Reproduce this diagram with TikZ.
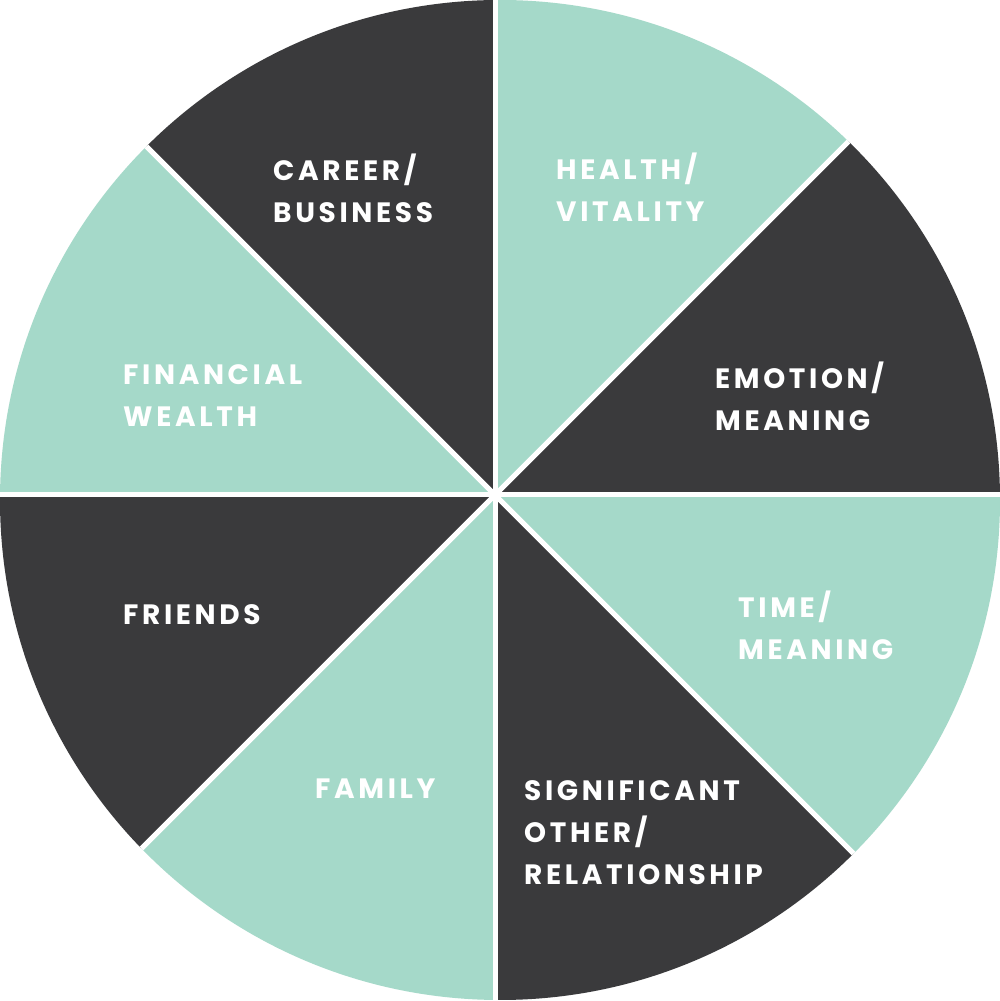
\documentclass[tikz,border=0pt]{standalone}
\usepackage{fontspec}
\newfontfamily\wheelfont{Poppins}[LetterSpace=13]
\definecolor{mint}{RGB}{165,217,201}
\definecolor{slate}{RGB}{58,58,60}
\begin{document}
\begin{tikzpicture}[x=1pt, y=1pt, line join=round, line cap=round,
  lbl/.style={text=white, font=\wheelfont\bfseries\fontsize{28}{42}\selectfont, align=left, anchor=west, inner sep=0pt}]
\useasboundingbox (0,0) rectangle (1000,1001);
\fill[white] (0,0) rectangle (1000,1001);
\path
(500,501) coordinate (M)
(495,506) coordinate (O);
% Wedges
\begin{scope}
\clip (M) circle (500);
\foreach \a/\c in {0/slate, 45/mint, 90/slate, 135/mint, 180/slate, 225/mint, 270/slate, 315/mint}
\fill[\c] (O) -- +(\a:800) -- +(\a+45:800) -- cycle;
\foreach \a in {0,45,...,315}
\draw[white, line width=5, line cap=butt] (O) -- +(\a:800);
\end{scope}
% Labels
\node[lbl] (career) at (273,813) {CAREER/\\BUSINESS};
\node[lbl] (health) at (556,814) {HEALTH/\\VITALITY};
\node[lbl] (financial) at (123,605) {FINANCIAL\\WEALTH};
\node[lbl] (emotion) at (715,605) {EMOTION/\\MEANING};
\node[lbl] (friends) at (123,386) {FRIENDS};
\node[lbl] (time) at (738,376) {TIME/\\MEANING};
\node[lbl] (family) at (315,212) {FAMILY};
\node[lbl] (significant) at (524,168) {SIGNIFICANT\\OTHER/\\RELATIONSHIP};
\end{tikzpicture}
\end{document}
